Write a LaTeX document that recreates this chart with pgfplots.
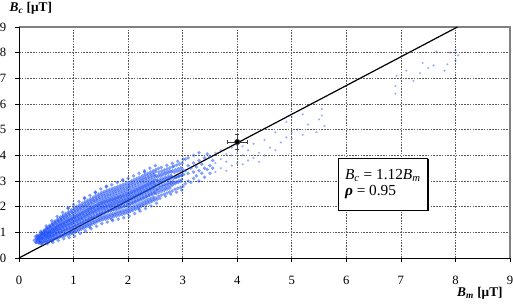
\documentclass[border=0pt]{standalone}
\usepackage{fontspec}
\setmainfont{Liberation Serif}
\usepackage{pgfplots}
\pgfplotsset{compat=1.18}
\usetikzlibrary{shadows}
\definecolor{ptblue}{RGB}{30,80,250}
\definecolor{gridc}{RGB}{90,90,90}
\begin{document}
\begin{tikzpicture}
\begin{axis}[
  scale only axis, width=368.25pt, height=173.25pt,
  xmin=0, xmax=9, ymin=0, ymax=9,
  xtick={0,1,...,9}, ytick={0,1,...,9},
  grid=major,
  major grid style={dash pattern=on 1.2pt off 0.9pt, gridc, line width=0.5pt},
  axis line style={draw=none},
  tick align=outside, tick pos=left, major tick length=3pt,
  tick style={black, line width=0.5pt},
  /pgf/number format/assume math mode=true,
  tick label style={font=\fontsize{9.5}{11}\selectfont},
  xticklabel style={yshift=-7pt},
  yticklabel style={xshift=-3pt},
  clip=false,
  every axis y label/.style={at={(rel axis cs:0,1)}, anchor=base west, xshift=-10.5pt, yshift=12pt},
  every axis x label/.style={at={(rel axis cs:1,0)}, anchor=base east, xshift=-2pt, yshift=-29pt},
  ylabel={\fontsize{10}{12}\selectfont\textbf{\textit{B}\textsubscript{\textit{c}} [μT]}},
  xlabel={\fontsize{10}{12}\selectfont\textbf{\textit{B}\textsubscript{\textit{m}} [μT]}},
  scatterstyle/.style={only marks, mark=*, mark size=1.4pt, color=ptblue,
     mark options={draw opacity=0, fill=ptblue, fill opacity=0.55}},
  sparsestyle/.style={only marks, mark=*, mark size=0.9pt, color=ptblue,
     mark options={draw opacity=0, fill=ptblue, fill opacity=0.45}},
]
% plot frame
\draw[gray, line width=1.2pt] (rel axis cs:0,1) -- (rel axis cs:1,1) -- (rel axis cs:1,0);
\draw[black, line width=0.6pt] (rel axis cs:0,1) -- (rel axis cs:0,0) -- (rel axis cs:1,0);

\addplot[scatterstyle] coordinates {
(0.31,0.62)(0.28,0.69)(0.32,0.75)(0.30,0.83)
(0.36,0.59)(0.34,0.69)(0.37,0.76)(0.35,0.84)(0.33,0.89)
(0.41,0.60)(0.38,0.66)(0.42,0.76)(0.40,0.84)(0.39,0.90)(0.415,0.96)
(0.46,0.63)(0.43,0.77)(0.47,0.87)(0.45,0.92)(0.44,0.98)(0.465,1.05)
(0.51,0.66)(0.48,0.75)(0.52,0.82)(0.50,0.87)(0.49,0.93)(0.515,0.98)(0.485,1.05)(0.505,1.14)
(0.56,0.70)(0.53,0.79)(0.57,0.87)(0.55,0.93)(0.54,0.99)(0.565,1.05)(0.535,1.13)(0.555,1.22)
(0.61,0.73)(0.58,0.83)(0.62,0.92)(0.60,0.99)(0.59,1.05)(0.615,1.12)(0.585,1.21)(0.605,1.31)
(0.66,0.77)(0.63,0.88)(0.67,0.97)(0.65,1.04)(0.64,1.12)(0.665,1.19)(0.635,1.28)(0.655,1.39)
(0.71,0.82)(0.68,0.93)(0.72,1.03)(0.70,1.10)(0.69,1.18)(0.715,1.25)(0.685,1.35)(0.705,1.46)
(0.76,0.86)(0.73,0.98)(0.77,1.08)(0.75,1.16)(0.74,1.24)(0.765,1.32)(0.735,1.42)(0.755,1.54)
(0.81,0.89)(0.78,1.02)(0.82,1.12)(0.80,1.21)(0.79,1.29)(0.815,1.38)(0.785,1.48)(0.805,1.61)
(0.86,0.93)(0.83,1.06)(0.87,1.17)(0.85,1.26)(0.84,1.34)(0.865,1.43)(0.835,1.54)(0.855,1.67)
(0.91,0.96)(0.88,1.10)(0.92,1.21)(0.90,1.30)(0.89,1.40)(0.915,1.49)(0.885,1.60)(0.905,1.74)
(0.96,0.99)(0.93,1.14)(0.97,1.26)(0.95,1.35)(0.94,1.45)(0.965,1.54)(0.935,1.66)(0.955,1.81)
(1.01,1.03)(0.98,1.18)(1.02,1.30)(1.00,1.40)(0.99,1.50)(1.015,1.60)(0.985,1.73)(1.005,1.88)
(1.06,1.09)(1.03,1.24)(1.07,1.36)(1.05,1.46)(1.04,1.56)(1.065,1.66)(1.035,1.79)(1.055,1.94)
(1.11,1.13)(1.08,1.28)(1.12,1.41)(1.10,1.51)(1.09,1.61)(1.115,1.71)(1.085,1.84)(1.105,1.99)
(1.16,1.19)(1.13,1.34)(1.17,1.47)(1.15,1.57)(1.14,1.67)(1.165,1.77)(1.135,1.90)(1.155,2.05)
(1.21,1.23)(1.18,1.38)(1.22,1.51)(1.20,1.62)(1.19,1.72)(1.215,1.83)(1.185,1.96)(1.205,2.11)
(1.26,1.29)(1.23,1.44)(1.27,1.57)(1.25,1.68)(1.24,1.78)(1.265,1.89)(1.235,2.02)(1.255,2.17)
(1.31,1.33)(1.28,1.49)(1.32,1.62)(1.30,1.73)(1.29,1.83)(1.315,1.94)(1.285,2.07)(1.305,2.23)
(1.36,1.39)(1.33,1.55)(1.37,1.68)(1.35,1.79)(1.34,1.89)(1.365,2.00)(1.335,2.13)(1.355,2.29)
(1.41,1.43)(1.38,1.59)(1.42,1.73)(1.40,1.84)(1.39,1.94)(1.415,2.05)(1.385,2.19)(1.405,2.35)
(1.46,1.49)(1.43,1.65)(1.47,1.79)(1.45,1.90)(1.44,2.00)(1.465,2.11)(1.435,2.25)(1.455,2.41)
(1.51,1.53)(1.48,1.70)(1.52,1.84)(1.50,1.95)(1.49,2.06)(1.515,2.17)(1.485,2.30)(1.505,2.47)
(1.56,1.57)(1.53,1.74)(1.57,1.88)(1.55,1.99)(1.54,2.10)(1.565,2.21)(1.535,2.34)(1.555,2.51)
(1.61,1.59)(1.58,1.76)(1.62,1.90)(1.60,2.01)(1.59,2.13)(1.615,2.24)(1.585,2.38)(1.605,2.55)
(1.66,1.63)(1.63,1.80)(1.67,1.94)(1.65,2.05)(1.64,2.17)(1.665,2.28)(1.635,2.42)(1.655,2.59)
(1.71,1.66)(1.68,1.83)(1.72,1.97)(1.70,2.08)(1.69,2.20)(1.715,2.31)(1.685,2.45)(1.705,2.62)
(1.76,1.70)(1.73,1.87)(1.77,2.01)(1.75,2.12)(1.74,2.24)(1.765,2.35)(1.735,2.49)(1.755,2.66)
(1.81,1.72)(1.78,1.89)(1.82,2.04)(1.80,2.15)(1.79,2.27)(1.815,2.38)(1.785,2.53)(1.805,2.70)
(1.86,1.76)(1.83,1.93)(1.87,2.08)(1.85,2.19)(1.84,2.31)(1.865,2.42)(1.835,2.57)(1.855,2.74)
(1.91,1.78)(1.88,1.96)(1.92,2.10)(1.90,2.22)(1.89,2.34)(1.915,2.46)(1.885,2.60)(1.905,2.78)
(1.96,1.82)(1.93,2.00)(1.97,2.14)(1.95,2.26)(1.94,2.38)(1.965,2.50)(1.935,2.64)(1.955,2.82)
(2.01,1.84)(1.98,2.02)(2.02,2.17)(2.00,2.29)(1.99,2.41)(2.015,2.53)(1.985,2.68)(2.005,2.86)
(2.06,1.89)(2.03,2.07)(2.07,2.22)(2.05,2.34)(2.04,2.46)(2.065,2.58)(2.035,2.73)(2.055,2.91)
(2.11,1.94)(2.08,2.12)(2.12,2.27)(2.10,2.39)(2.09,2.51)(2.115,2.63)(2.085,2.78)(2.105,2.96)
(2.16,1.99)(2.13,2.17)(2.17,2.32)(2.15,2.44)(2.14,2.56)(2.165,2.68)(2.135,2.83)(2.155,3.01)
(2.21,2.04)(2.18,2.22)(2.22,2.37)(2.20,2.49)(2.19,2.61)(2.215,2.73)(2.185,2.88)(2.205,3.06)
(2.26,2.09)(2.23,2.27)(2.27,2.42)(2.25,2.54)(2.24,2.66)(2.265,2.78)(2.235,2.93)(2.255,3.11)
(2.31,2.14)(2.28,2.32)(2.32,2.47)(2.30,2.59)(2.29,2.71)(2.315,2.83)(2.285,2.98)(2.305,3.16)
(2.36,2.19)(2.33,2.37)(2.37,2.52)(2.35,2.64)(2.34,2.76)(2.365,2.88)(2.335,3.03)(2.355,3.21)
(2.41,2.24)(2.38,2.42)(2.42,2.57)(2.40,2.69)(2.39,2.81)(2.415,2.93)(2.385,3.08)(2.405,3.26)
(2.46,2.29)(2.43,2.47)(2.47,2.62)(2.45,2.74)(2.44,2.86)(2.465,2.98)(2.435,3.13)(2.455,3.31)
(2.51,2.34)(2.48,2.52)(2.52,2.67)(2.50,2.79)(2.49,2.91)(2.515,3.03)(2.485,3.18)(2.505,3.36)
(2.56,2.41)(2.53,2.61)(2.57,2.79)(2.55,2.97)(2.54,3.15)(2.565,3.35)
(2.61,2.45)(2.58,2.65)(2.62,2.83)(2.60,3.01)(2.59,3.19)(2.615,3.39)
(2.66,2.49)(2.63,2.69)(2.67,2.87)(2.65,3.05)(2.64,3.23)(2.665,3.43)
(2.71,2.53)(2.68,2.73)(2.72,2.91)(2.70,3.09)(2.69,3.27)(2.715,3.47)
(2.76,2.57)(2.73,2.77)(2.77,2.95)(2.75,3.13)(2.74,3.31)(2.765,3.51)
(2.81,2.61)(2.78,2.81)(2.82,2.99)(2.80,3.17)(2.79,3.35)(2.815,3.55)
(2.86,2.68)(2.83,2.93)(2.87,3.13)(2.85,3.33)(2.84,3.58)
(2.91,2.72)(2.88,2.97)(2.92,3.17)(2.90,3.37)(2.89,3.62)
(2.96,2.76)(2.93,3.01)(2.97,3.21)(2.95,3.41)(2.94,3.66)
(3.01,2.80)(2.98,3.05)(3.02,3.25)(3.00,3.45)(2.99,3.70)
(3.05,2.90)(3.05,3.40)(3.05,3.85)
(3.10,3.00)(3.10,3.30)(3.10,3.60)(3.10,3.90)
(3.15,2.95)(3.15,3.50)
(3.20,3.10)(3.20,3.35)(3.20,3.70)(3.20,4.00)
(3.25,3.20)(3.25,3.55)
(3.30,3.00)(3.30,3.40)(3.30,3.80)(3.30,4.10)
(3.35,3.30)(3.35,3.65)
(3.40,3.15)(3.40,3.50)(3.40,3.90)
(3.45,3.45)(3.45,4.05)
(3.50,3.30)(3.50,3.60)(3.50,3.95)
(3.55,3.50)(3.55,3.80)
(1.20,2.35)(1.60,2.80)(1.90,3.05)(0.90,1.95)(2.30,3.35)(1.40,2.55)
(1.30,1.20)(1.70,1.50)(2.20,1.90)(0.60,0.65)
};

\addplot[sparsestyle] coordinates {
(3.60,3.35)(3.60,3.70)(3.60,4.10)
(3.70,3.50)(3.70,3.85)(3.70,4.20)
(3.80,3.40)(3.80,3.75)(3.80,4.05)
(3.90,3.60)(3.90,4.00)(3.90,4.30)
(4.00,3.70)(4.00,4.10)(4.00,4.40)
(4.10,3.65)(4.10,4.00)(4.10,4.35)
(4.20,3.80)(4.20,4.20)
(4.30,3.90)(4.30,4.45)
(4.40,3.75)(4.40,4.10)
(4.50,4.00)(4.50,4.60)
(4.60,4.30)
(4.70,4.20)(4.70,4.90)
(4.80,4.50)
(4.90,4.70)(4.90,5.30)
(5.00,4.65)(5.00,5.50)(5.00,4.90)
(5.10,5.00)
(5.20,4.80)(5.20,5.60)
(5.30,5.20)
(5.45,4.90)(5.50,5.40)(5.55,5.80)(5.55,5.55)
(5.60,5.15)
(6.90,6.40)(6.90,6.70)(6.92,7.10)(7.23,6.90)(7.10,7.30)(7.40,7.60)(7.50,7.40)(7.35,7.20)
(7.60,7.50)(7.80,7.30)(7.65,8.05)(7.90,8.00)(8.00,8.10)(7.85,7.55)(8.00,7.70)(8.05,7.90)
};

\addplot[scatterstyle] coordinates {
(0.315,0.60)(0.337,0.69)(0.32,0.75)(0.333,0.84)
(0.365,0.61)(0.387,0.67)(0.37,0.72)(0.383,0.76)(0.363,0.80)(0.379,0.84)(0.375,0.90)
(0.415,0.64)(0.437,0.71)(0.42,0.76)(0.433,0.81)(0.413,0.86)(0.429,0.91)(0.425,0.97)
(0.465,0.67)(0.487,0.75)(0.47,0.82)(0.483,0.87)(0.463,0.92)(0.479,0.98)(0.475,1.06)
(0.515,0.71)(0.537,0.80)(0.52,0.87)(0.533,0.93)(0.513,0.99)(0.529,1.05)(0.525,1.14)
(0.565,0.75)(0.587,0.84)(0.57,0.93)(0.583,0.99)(0.563,1.05)(0.579,1.13)(0.575,1.22)
(0.615,0.79)(0.637,0.89)(0.62,0.98)(0.633,1.05)(0.613,1.12)(0.629,1.20)(0.625,1.30)
(0.665,0.83)(0.687,0.94)(0.67,1.04)(0.683,1.11)(0.663,1.18)(0.679,1.27)(0.675,1.37)
(0.715,0.88)(0.737,0.99)(0.72,1.09)(0.733,1.17)(0.713,1.25)(0.729,1.33)(0.725,1.44)
(0.765,0.92)(0.787,1.04)(0.77,1.14)(0.783,1.23)(0.763,1.31)(0.779,1.40)(0.775,1.51)
(0.815,0.95)(0.837,1.08)(0.82,1.19)(0.833,1.28)(0.813,1.36)(0.829,1.46)(0.825,1.58)
(0.865,0.99)(0.887,1.12)(0.87,1.24)(0.883,1.33)(0.863,1.42)(0.879,1.51)(0.875,1.64)
(0.915,1.02)(0.937,1.16)(0.92,1.28)(0.933,1.38)(0.913,1.47)(0.929,1.57)(0.925,1.70)
(0.965,1.06)(0.987,1.20)(0.97,1.33)(0.983,1.43)(0.963,1.52)(0.979,1.63)(0.975,1.77)
(1.015,1.11)(1.037,1.26)(1.02,1.38)(1.033,1.48)(1.013,1.58)(1.029,1.69)(1.025,1.83)
(1.065,1.16)(1.087,1.31)(1.07,1.43)(1.083,1.54)(1.063,1.64)(1.079,1.75)(1.075,1.89)
(1.115,1.21)(1.137,1.36)(1.12,1.49)(1.133,1.59)(1.113,1.69)(1.129,1.80)(1.125,1.95)
(1.165,1.26)(1.187,1.41)(1.17,1.54)(1.183,1.65)(1.163,1.75)(1.179,1.86)(1.175,2.01)
(1.215,1.31)(1.237,1.47)(1.22,1.60)(1.233,1.70)(1.213,1.80)(1.229,1.92)(1.225,2.06)
(1.265,1.36)(1.287,1.52)(1.27,1.65)(1.283,1.76)(1.263,1.86)(1.279,1.98)(1.275,2.12)
(1.315,1.41)(1.337,1.57)(1.32,1.70)(1.333,1.81)(1.313,1.92)(1.329,2.03)(1.325,2.18)
(1.365,1.46)(1.387,1.62)(1.37,1.76)(1.383,1.87)(1.363,1.97)(1.379,2.09)(1.375,2.24)
(1.415,1.52)(1.437,1.68)(1.42,1.81)(1.433,1.92)(1.413,2.03)(1.429,2.15)(1.425,2.30)
(1.465,1.57)(1.487,1.73)(1.47,1.87)(1.483,1.98)(1.463,2.08)(1.479,2.20)(1.475,2.36)
(1.515,1.61)(1.537,1.77)(1.52,1.91)(1.533,2.02)(1.513,2.13)(1.529,2.25)(1.525,2.41)
(1.565,1.64)(1.587,1.81)(1.57,1.94)(1.583,2.06)(1.563,2.17)(1.579,2.29)(1.575,2.44)
(1.615,1.67)(1.637,1.84)(1.62,1.98)(1.633,2.09)(1.613,2.20)(1.629,2.33)(1.625,2.48)
(1.665,1.70)(1.687,1.87)(1.67,2.01)(1.683,2.13)(1.663,2.24)(1.679,2.36)(1.675,2.52)
(1.715,1.73)(1.737,1.90)(1.72,2.05)(1.733,2.16)(1.713,2.27)(1.729,2.40)(1.725,2.56)
(1.765,1.76)(1.787,1.94)(1.77,2.08)(1.783,2.20)(1.763,2.31)(1.779,2.44)(1.775,2.60)
(1.815,1.80)(1.837,1.97)(1.82,2.11)(1.833,2.23)(1.813,2.35)(1.829,2.47)(1.825,2.64)
(1.865,1.83)(1.887,2.00)(1.87,2.15)(1.883,2.27)(1.863,2.38)(1.879,2.51)(1.875,2.68)
(1.915,1.86)(1.937,2.03)(1.92,2.18)(1.933,2.30)(1.913,2.42)(1.929,2.55)(1.925,2.71)
(1.965,1.89)(1.987,2.07)(1.97,2.22)(1.983,2.34)(1.963,2.45)(1.979,2.58)(1.975,2.75)
(2.015,1.93)(2.037,2.11)(2.02,2.26)(2.033,2.38)(2.013,2.50)(2.029,2.63)(2.025,2.80)
(2.065,1.98)(2.087,2.16)(2.07,2.31)(2.083,2.43)(2.063,2.55)(2.079,2.68)(2.075,2.85)
(2.115,2.03)(2.137,2.21)(2.12,2.36)(2.133,2.48)(2.113,2.60)(2.129,2.73)(2.125,2.90)
(2.165,2.08)(2.187,2.26)(2.17,2.41)(2.183,2.53)(2.163,2.65)(2.179,2.78)(2.175,2.95)
(2.215,2.13)(2.237,2.31)(2.22,2.46)(2.233,2.58)(2.213,2.70)(2.229,2.83)(2.225,3.00)
(2.265,2.18)(2.287,2.36)(2.27,2.51)(2.283,2.63)(2.263,2.75)(2.279,2.88)(2.275,3.05)
(2.315,2.23)(2.337,2.41)(2.32,2.56)(2.333,2.68)(2.313,2.80)(2.329,2.93)(2.325,3.10)
(2.365,2.28)(2.387,2.46)(2.37,2.61)(2.383,2.73)(2.363,2.85)(2.379,2.98)(2.375,3.15)
(2.415,2.33)(2.437,2.51)(2.42,2.66)(2.433,2.78)(2.413,2.90)(2.429,3.03)(2.425,3.20)
(2.465,2.38)(2.487,2.56)(2.47,2.71)(2.483,2.83)(2.463,2.95)(2.479,3.08)(2.475,3.25)
(2.515,2.50)(2.537,2.70)(2.52,2.87)(2.533,3.02)(2.513,3.20)
(2.565,2.55)(2.587,2.74)(2.57,2.91)(2.583,3.06)(2.563,3.24)
(2.615,2.60)(2.637,2.79)(2.62,2.95)(2.633,3.10)(2.613,3.28)
(2.665,2.64)(2.687,2.83)(2.67,2.99)(2.683,3.14)(2.663,3.32)
(2.715,2.68)(2.737,2.87)(2.72,3.03)(2.733,3.18)(2.713,3.36)
(2.765,2.72)(2.787,2.91)(2.77,3.07)(2.783,3.22)(2.763,3.40)
(2.815,2.85)(2.837,3.11)(2.82,3.40)
(2.865,2.90)(2.887,3.15)(2.87,3.44)
(2.915,2.94)(2.937,3.19)(2.92,3.48)
(2.965,2.98)(2.987,3.23)(2.97,3.52)
};

% outer fringe of the cloud
\addplot[scatterstyle] coordinates {
(0.41,0.99)(0.385,0.57)(0.40,1.04)(0.42,0.53)
(0.46,1.09)(0.435,0.59)
(0.51,1.18)(0.485,0.62)(0.50,1.25)(0.52,0.56)
(0.56,1.27)(0.535,0.65)
(0.61,1.36)(0.585,0.68)(0.60,1.45)(0.62,0.61)
(0.66,1.44)(0.635,0.72)
(0.71,1.52)(0.685,0.76)(0.70,1.62)(0.72,0.68)
(0.76,1.60)(0.735,0.80)
(0.81,1.67)(0.785,0.83)(0.80,1.78)(0.82,0.75)
(0.86,1.74)(0.835,0.86)
(0.91,1.81)(0.885,0.89)(0.90,1.93)(0.92,0.80)
(0.96,1.88)(0.935,0.92)
(1.01,1.95)(0.985,0.95)(1.00,2.08)(1.02,0.85)
(1.06,2.01)(1.035,1.01)
(1.11,2.07)(1.085,1.05)(1.10,2.20)(1.12,0.95)
(1.16,2.13)(1.135,1.11)
(1.21,2.19)(1.185,1.15)(1.20,2.32)(1.22,1.05)
(1.26,2.25)(1.235,1.21)
(1.31,2.31)(1.285,1.25)(1.30,2.44)(1.32,1.14)
(1.36,2.37)(1.335,1.31)
(1.41,2.43)(1.385,1.35)(1.40,2.57)(1.42,1.24)
(1.46,2.49)(1.435,1.41)
(1.51,2.55)(1.485,1.45)(1.50,2.69)(1.52,1.34)
(1.56,2.59)(1.535,1.49)
(1.61,2.63)(1.585,1.51)(1.60,2.77)(1.62,1.40)
(1.66,2.67)(1.635,1.55)
(1.71,2.71)(1.685,1.57)(1.70,2.85)(1.72,1.46)
(1.76,2.75)(1.735,1.61)
(1.81,2.79)(1.785,1.63)(1.80,2.94)(1.82,1.51)
(1.86,2.83)(1.835,1.67)
(1.91,2.87)(1.885,1.69)(1.90,3.02)(1.92,1.57)
(1.96,2.91)(1.935,1.73)
(2.01,2.95)(1.985,1.75)(2.00,3.10)(2.02,1.63)
(2.06,3.00)(2.035,1.80)
(2.11,3.05)(2.085,1.85)(2.10,3.20)(2.12,1.73)
(2.16,3.10)(2.135,1.90)
(2.21,3.15)(2.185,1.95)(2.20,3.30)(2.22,1.83)
(2.26,3.20)(2.235,2.00)
(2.31,3.25)(2.285,2.05)(2.30,3.40)(2.32,1.93)
(2.36,3.30)(2.335,2.10)
(2.41,3.35)(2.385,2.15)(2.40,3.50)(2.42,2.03)
(2.46,3.40)(2.435,2.20)
(2.51,3.45)(2.485,2.25)(2.50,3.60)(2.52,2.13)
(2.56,3.49)(2.535,2.29)
(2.61,3.53)(2.585,2.33)
(2.71,3.61)(2.685,2.41)
(2.81,3.69)(2.785,2.49)
(2.91,3.77)(2.885,2.57)
(3.01,3.85)(2.985,2.65)
};

\addplot[black, line width=0.9pt] coordinates {(0,0) (8.036,9)};

\addplot[only marks, mark=none, draw=black!75,
  error bars/.cd, x dir=both, x explicit, y dir=both, y explicit,
  error bar style={black!75, line width=0.6pt}, error mark options={rotate=90, mark size=1.5pt, black!75}]
  coordinates {(4.0,4.52) +- (0.18,0.3)};

\node[draw=black, line width=0.8pt, fill=white, align=left, anchor=center,
  minimum width=66.75pt, minimum height=39pt, inner sep=2pt,
  drop shadow={shadow xshift=1pt, shadow yshift=-1pt, opacity=1, fill=black}]
  at (axis cs:6.67,2.88)
  {\fontsize{11.5}{15}\selectfont\textit{B}\textsubscript{\textit{c}} = 1.12\textit{B}\textsubscript{\textit{m}}\\
   \fontsize{11.5}{15}\selectfont\textbf{\textit{ρ}} = 0.95};
\end{axis}
\pgfresetboundingbox
\useasboundingbox (-14.25pt,-36pt) rectangle (370.5pt,193.5pt);
\end{tikzpicture}
\end{document}
